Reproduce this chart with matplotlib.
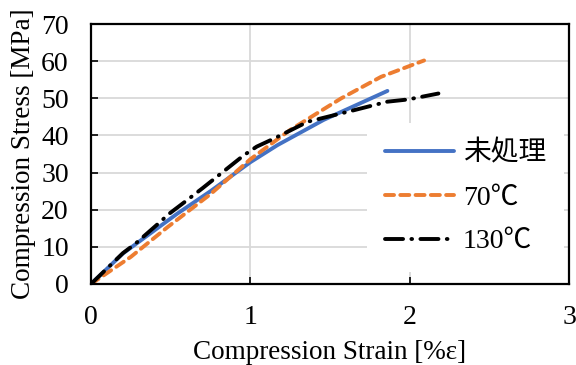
import matplotlib
matplotlib.use("Agg")
import matplotlib.pyplot as plt

# values (strain %, stress MPa)
untreated_x = [0, 0.2, 0.54, 0.75, 1.0, 1.17, 1.46, 1.86]
untreated_y = [0, 8.2, 18.9, 25.0, 32.8, 37.4, 44.2, 52.0]

t70_x = [0, 0.25, 0.48, 0.75, 1.0, 1.25, 1.57, 1.82, 2.09]
t70_y = [0, 7.3, 15.3, 24.2, 33.6, 41.5, 50.0, 55.8, 60.2]

t130_x = [0, 0.2, 0.28, 0.41, 0.49, 0.57, 0.70, 0.77, 0.96, 1.04, 1.15, 1.36, 1.65, 1.86, 1.99, 2.18]
t130_y = [0, 8.3, 10.9, 15.8, 18.9, 21.5, 25.8, 28.2, 34.7, 37.0, 39.2, 43.7, 46.8, 49.1, 49.7, 51.3]

labels = ["未処理", "70℃", "130℃"]
x_ticks = [0, 1, 2, 3]
y_ticks = [0, 10, 20, 30, 40, 50, 60, 70]

plt.rcParams["font.family"] = ["Liberation Serif", "Noto Sans CJK JP"]
plt.rcParams["lines.scale_dashes"] = False

fig = plt.figure(figsize=(5.76, 3.65), dpi=100)
ax = fig.add_axes([0.158, 0.222, 0.830, 0.712])

ax.plot(untreated_x, untreated_y, color="#4472C4", lw=2.8, label=labels[0],
        solid_capstyle="round")
ax.plot(t70_x, t70_y, color="#ED7D31", lw=2.8, dashes=(6.5, 4.5), label=labels[1],
        dash_capstyle="round")
ax.plot(t130_x, t130_y, color="black", lw=2.8, dashes=(13, 6, 0.5, 6), label=labels[2],
        dash_capstyle="round")

ax.set_xlim(0, 3)
ax.set_ylim(0, 70)
ax.set_xticks(x_ticks)
ax.set_yticks(y_ticks)
ax.grid(True, color="#d9d9d9", lw=1.3)
ax.set_axisbelow(True)
for s in ax.spines.values():
    s.set_linewidth(1.6)
    s.set_color("black")
ax.tick_params(direction="in", length=5, width=1.2, labelsize=20)
ax.tick_params(axis="x", pad=15)
ax.tick_params(axis="y", pad=16)

ax.set_xlabel("Compression Strain [%ε]", fontsize=19.5, labelpad=7)
ax.set_ylabel("Compression Stress [MPa]", fontsize=19.5, labelpad=4)

leg = ax.legend(loc="center left", bbox_to_anchor=(0.577, 0.333),
                fontsize=20, frameon=True, fancybox=False,
                framealpha=1, facecolor="white", edgecolor="none",
                handlelength=2.5, handletextpad=0.3, labelspacing=0.66,
                borderpad=0.65, borderaxespad=0)
leg.set_zorder(2.4)

fig.savefig("out.png", dpi=100)
